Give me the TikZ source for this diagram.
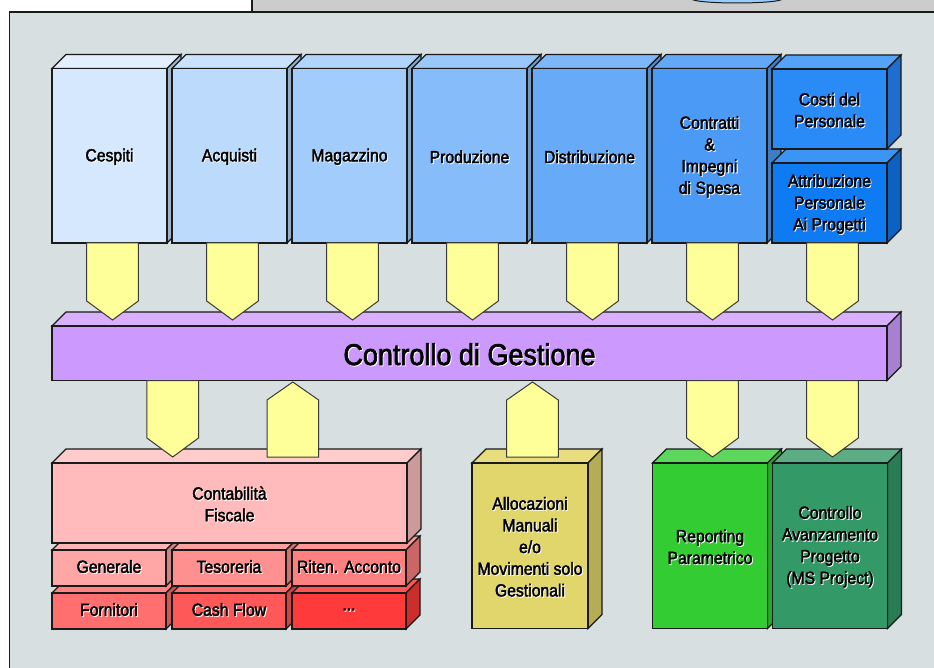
\documentclass[tikz,border=0pt]{standalone}
\usepackage{fontspec}
\setmainfont{Liberation Sans}[FakeStretch=0.9,FakeBold=2.2]
\usetikzlibrary{calc}
\definecolor{panelbg}{HTML}{D7DFE0}
\definecolor{stripgray}{HTML}{CCCCCC}
\definecolor{ellblue}{HTML}{99CCFF}
\definecolor{edgecol}{HTML}{1A1A1A}
\definecolor{yel}{HTML}{FFFF99}
\definecolor{yedge}{HTML}{3A3A3A}
% top row
\definecolor{fA}{HTML}{D6E8FE}\definecolor{tA}{HTML}{E3EFFF}\definecolor{sA}{HTML}{9EB3C9}
\definecolor{fB}{HTML}{BCDBFC}\definecolor{tB}{HTML}{C9E3FE}\definecolor{sB}{HTML}{93ADC8}
\definecolor{fC}{HTML}{A1CCFC}\definecolor{tC}{HTML}{B1D4FD}\definecolor{sC}{HTML}{86A6C6}
\definecolor{fD}{HTML}{87BCFA}\definecolor{tD}{HTML}{9BC8FB}\definecolor{sD}{HTML}{7099C4}
\definecolor{fE}{HTML}{66AAF8}\definecolor{tE}{HTML}{7DB6F9}\definecolor{sE}{HTML}{5889C0}
\definecolor{fF}{HTML}{4A9AF6}\definecolor{tF}{HTML}{62A8F7}\definecolor{sF}{HTML}{3F7DC4}
\definecolor{fG}{HTML}{2A8AF6}\definecolor{tG}{HTML}{55A3F8}\definecolor{sG}{HTML}{1F6ECF}
\definecolor{fH}{HTML}{0F7BF2}\definecolor{tH}{HTML}{3C94F5}\definecolor{sH}{HTML}{0B62C4}
% bar
\definecolor{fbar}{HTML}{CC99FF}\definecolor{tbar}{HTML}{D9B0FF}\definecolor{sbar}{HTML}{A880D0}
% reds
\definecolor{fcf}{HTML}{FFBBBB}\definecolor{tcf}{HTML}{FFCCCC}\definecolor{scf}{HTML}{CC9A9A}
\definecolor{fr1}{HTML}{FFA6A6}\definecolor{tr1}{HTML}{FFB5B5}\definecolor{sr1}{HTML}{CC8585}
\definecolor{fr2}{HTML}{FF9090}\definecolor{tr2}{HTML}{FFA0A0}\definecolor{sr2}{HTML}{CC7373}
\definecolor{fr3}{HTML}{FF8080}\definecolor{tr3}{HTML}{FF9595}\definecolor{sr3}{HTML}{CC6666}
\definecolor{fr4}{HTML}{FF6F6F}\definecolor{tr4}{HTML}{FF8585}\definecolor{sr4}{HTML}{CC5959}
\definecolor{fr5}{HTML}{FF5858}\definecolor{tr5}{HTML}{FF7070}\definecolor{sr5}{HTML}{CC4646}
\definecolor{fr6}{HTML}{FF3A3A}\definecolor{tr6}{HTML}{FF5555}\definecolor{sr6}{HTML}{CC2E2E}
% others
\definecolor{fal}{HTML}{E1D66B}\definecolor{tal}{HTML}{E8DD7E}\definecolor{sal}{HTML}{B5AC56}
\definecolor{frp}{HTML}{33CC33}\definecolor{trp}{HTML}{5CD65C}\definecolor{srp}{HTML}{2AA82A}
\definecolor{fca}{HTML}{339966}\definecolor{tca}{HTML}{5CAD85}\definecolor{sca}{HTML}{2A7C54}

\newcommand\lbl{\fontsize{17.5}{21.7}\selectfont}
\newcommand\ttl{\fontsize{30}{35}\selectfont}
\newcommand\shd[1]{\makebox[0pt][l]{\raisebox{-0.9pt}{\hspace{0.9pt}\textcolor{white}{#1}}}#1}
\newcommand\tsh{1.5}

\tikzset{
  facet/.style={draw=edgecol, line width=1.1pt, line join=miter},
  yarr/.style={fill=yel, draw=yedge, line width=1pt, line join=miter},
}
% name, x1, y1, x2, y2, front, top, side, text
\newcommand\cube[9]{%
  \filldraw[facet, fill=#7] (#2,#3) -- ++(14,-14) -- ({#4+14},{#3-14}) -- (#4,#3) -- cycle;
  \filldraw[facet, fill=#8] (#4,#3) -- ({#4+14},{#3-14}) -- ({#4+14},{#5-14}) -- (#4,#5) -- cycle;
  \filldraw[facet, fill=#6] (#2,#3) rectangle (#4,#5);
  \node[anchor=north west, outer sep=0pt, inner sep=0pt,
        minimum width={#4-#2}, minimum height={#5-#3}, align=center, font=\lbl]
        (#1) at (#2,{#3+\tsh}) {#9};}
% down arrow: top-centre coordinate, tip coordinate
\newcommand\darr[2]{%
  \filldraw[yarr] ($(#1)+(-25.8,0)$) -- ($(#1)+(25.8,0)$) -- ($(#2)+(25.8,-19)$)
     -- (#2) -- ($(#2)+(-25.8,-19)$) -- cycle;}
% up arrow: bottom-centre coordinate, tip coordinate
\newcommand\uarr[2]{%
  \filldraw[yarr] ($(#1)+(-25.8,0)$) -- ($(#1)+(25.8,0)$) -- ($(#2)+(25.8,18)$)
     -- (#2) -- ($(#2)+(-25.8,18)$) -- cycle;}

\begin{document}
\begin{tikzpicture}[x=1pt, y=-1pt]
\useasboundingbox (0,0) rectangle (934,668);
\fill[white] (0,0) rectangle (934,668);
% top strip
\fill[stripgray] (252,-2) rectangle (936,12);
\filldraw[fill=ellblue, draw=edgecol, line width=1pt] (737,-1) ellipse [x radius=45, y radius=4];
\draw[edgecol, line width=1.4pt] (252,-2) -- (252,12);
% panel
\filldraw[fill=panelbg, draw=edgecol, line width=1.4pt] (940,674) -- (9.5,674) -- (9.5,12) -- (940,12);

% top row
\cube{ces}{52}{68.5}{167}{243}{fA}{tA}{sA}{\shd{Cespiti}}
\cube{acq}{172}{68.5}{287}{243}{fB}{tB}{sB}{\shd{Acquisti}}
\cube{mag}{292}{68.5}{407}{243}{fC}{tC}{sC}{\shd{Magazzino}}
\cube{pro}{412}{68.5}{527}{243}{fD}{tD}{sD}{\shd{Produzione}}
\cube{dis}{532}{68.5}{647}{243}{fE}{tE}{sE}{\shd{Distribuzione}}
\cube{con}{652}{68.5}{767}{243}{fF}{tF}{sF}{\shd{Contratti}\\\shd{\&}\\\shd{Impegni}\\\shd{di Spesa}}
\cube{att}{772}{163}{887}{243}{fH}{tH}{sH}{\shd{Attribuzione}\\\shd{Personale}\\\shd{Ai Progetti}}
\cube{cos}{772}{69}{887}{149}{fG}{tG}{sG}{\shd{Costi del}\\\shd{Personale}}

% central bar
\cube{cdg}{52}{326}{887}{380.5}{fbar}{tbar}{sbar}{\ttl\shd{Controllo di Gestione}}

% bottom left stack
\renewcommand\tsh{-1}
\cube{forn}{52}{593}{166}{629}{fr4}{tr4}{sr4}{\shd{Fornitori}}
\cube{cash}{172}{593}{286}{629}{fr5}{tr5}{sr5}{\shd{Cash Flow}}
\cube{etc}{292}{593}{406}{629}{fr6}{tr6}{sr6}{\shd{...}}
\cube{gen}{52}{550}{166}{586}{fr1}{tr1}{sr1}{\shd{Generale}}
\cube{tes}{172}{550}{286}{586}{fr2}{tr2}{sr2}{\shd{Tesoreria}}
\cube{rit}{292}{550}{406}{586}{fr3}{tr3}{sr3}{\shd{Riten. Acconto}}
\renewcommand\tsh{1.5}
\cube{cf}{52}{463}{407}{543}{fcf}{tcf}{scf}{\shd{Contabilità}\\\shd{Fiscale}}

% other bottom boxes
\cube{all}{472}{463}{588}{628.5}{fal}{tal}{sal}{\shd{Allocazioni}\\\shd{Manuali}\\\shd{e/o}\\\shd{Movimenti solo}\\\shd{Gestionali}}
\cube{rep}{652.5}{463}{767.5}{628.5}{frp}{trp}{srp}{\shd{Reporting}\\\shd{Parametrico}}
\cube{cav}{772.5}{463}{887.5}{628.5}{fca}{tca}{sca}{\shd{Controllo}\\\shd{Avanzamento}\\\shd{Progetto}\\\shd{(MS Project)}}

% helper coordinates (text nodes sit \tsh below their faces)
\coordinate (cdgtip) at ($(cdg.north)+(0,-6-\tsh)$);
\coordinate (cdgbot) at ($(cdg.south)+(0,-\tsh)$);
\coordinate (bottip) at ($(cf.north)+(0,-6-\tsh)$);
\coordinate (cdgup) at ($(cdg.south)+(0,1.5-\tsh)$);

% arrows from top boxes into the bar
\foreach \b in {ces,acq,mag,pro,dis,con,att}{
  \coordinate (top-\b) at ($(\b.south)+(3,-\tsh)$);
  \coordinate (tip-\b) at (top-\b |- cdgtip);
  \darr{top-\b}{tip-\b}
}

% arrows below the bar
\coordinate (d1) at ($(cf.north west)+(120.7,0)$);
\coordinate (d1top) at (d1 |- cdgbot);
\coordinate (d1tip) at (d1 |- bottip);
\darr{d1top}{d1tip}

\coordinate (u1) at ($(cf.north west)+(240.8,0)$);
\coordinate (u1bot) at (u1 |- bottip);
\coordinate (u1tip) at (u1 |- cdgup);
\uarr{u1bot}{u1tip}

\coordinate (u2) at ($(all.north)+(2.5,0)$);
\coordinate (u2bot) at (u2 |- bottip);
\coordinate (u2tip) at (u2 |- cdgup);
\uarr{u2bot}{u2tip}

\coordinate (d2) at ($(rep.north)+(2.5,0)$);
\coordinate (d2top) at (d2 |- cdgbot);
\coordinate (d2tip) at (d2 |- bottip);
\darr{d2top}{d2tip}

\coordinate (d3) at ($(cav.north)+(2.5,0)$);
\coordinate (d3top) at (d3 |- cdgbot);
\coordinate (d3tip) at (d3 |- bottip);
\darr{d3top}{d3tip}
\end{tikzpicture}
\end{document}
